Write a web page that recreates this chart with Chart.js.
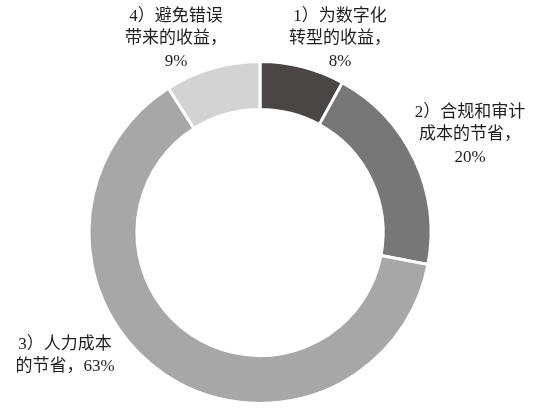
<!DOCTYPE html>
<html>
<head>
<meta charset="utf-8">
<script src="https://cdn.jsdelivr.net/npm/chart.js@4"></script>
<style>
  html, body { margin: 0; padding: 0; background: #ffffff; }
  #wrap { width: 543px; height: 415px; position: relative; }
</style>
</head>
<body>
<div id="wrap"><canvas id="ringChart"></canvas></div>
<script>
// données
const categories = ['为数字化转型的收益', '合规和审计成本的节省', '人力成本的节省', '避免错误带来的收益'];
const values = [8, 20, 63, 9];
const sliceColors = ['#4b4646', '#777777', '#a7a7a7', '#d3d3d3'];

// mise en page des étiquettes (décalage depuis le centre, coupures de ligne)
const labelOffsets = [[80, -216], [210, -120], [-195, 112], [-84, -216]];
const labelBreaks = [[6, 12], [7, 13], [6], [6, 12]];
const lineHeight = 22.5;

const outsideLabels = {
    id: 'outsideLabels',
    afterDraw(chart) {
        const ctx = chart.ctx;
        const arcs = chart.getDatasetMeta(0).data;
        ctx.save();
        ctx.fillStyle = '#1e1e1e';
        ctx.font = '17px "Liberation Serif", "Noto Sans CJK SC", serif';
        ctx.textAlign = 'center';
        ctx.textBaseline = 'middle';
        arcs.forEach((arc, i) => {
            const text = `${i + 1}）${categories[i]}，${values[i]}%`;
            const cuts = [0, ...labelBreaks[i], text.length];
            for (let k = 0; k < cuts.length - 1; k++) {
                const line = text.slice(cuts[k], cuts[k + 1]);
                ctx.fillText(line, arc.x + labelOffsets[i][0], arc.y + labelOffsets[i][1] + k * lineHeight);
            }
        });
        ctx.restore();
    }
};

const ctx = document.getElementById('ringChart').getContext('2d');
new Chart(ctx, {
    type: 'doughnut',
    data: {
        labels: categories,
        datasets: [{
            data: values,
            backgroundColor: sliceColors,
            borderColor: '#ffffff',
            borderWidth: 3
        }]
    },
    options: {
        responsive: true,
        maintainAspectRatio: false,
        animation: false,
        cutout: '72%',
        layout: {
            padding: { top: 60, bottom: 10, left: 0, right: 23 }
        },
        plugins: {
            legend: { display: false },
            tooltip: { enabled: false }
        }
    },
    plugins: [outsideLabels]
});
</script>
</body>
</html>
